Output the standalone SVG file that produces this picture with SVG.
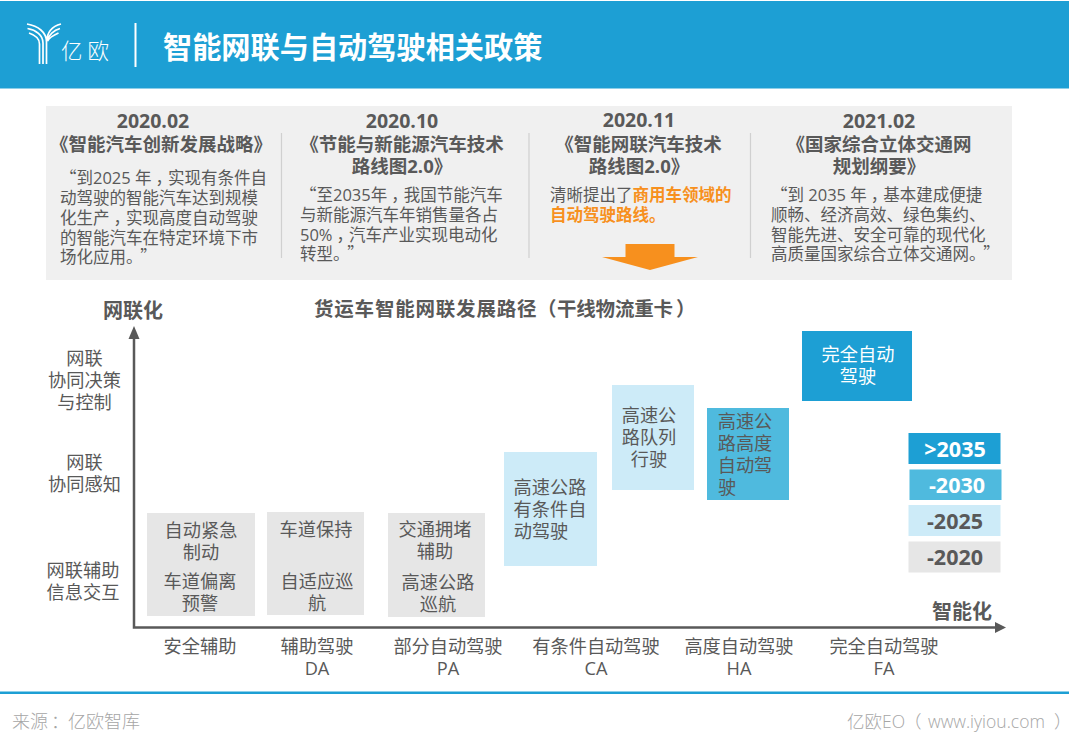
<svg xmlns="http://www.w3.org/2000/svg" width="1080" height="751" viewBox="0 0 1080 751">
<style>
text{font-family:"Open Sans","Noto Sans CJK SC","Noto Sans",sans-serif;fill:#595959;text-anchor:middle}
.st{font-size:16.5px}
.l{text-anchor:start}
.q{font-family:"Noto Sans CJK SC",sans-serif}
.date{font-size:19.5px;font-weight:700}
.ti{font-size:18.5px;font-weight:700}
.or{fill:#f7901e;font-weight:700}
.n{font-size:18.2px}
.ax{font-size:18.2px}
.ah{font-size:20px;font-weight:700}
.yr{font-size:21.5px;font-weight:700}
.w{fill:#fff}
.sep{stroke:#d0d0d0;stroke-width:1.2;fill:none}
.lg{stroke:#fff;stroke-width:1.7;fill:none}
.ft{font-size:17.5px;font-weight:300;fill:#a6a6a6}
</style>
<rect width="1080" height="751" fill="#fff"/>
<g id="header">
<rect x="0" y="1" width="1069" height="87.500" fill="#1d9fd4"/>
<g id="logo">
<path class="lg" d="M27 24C38 26 46.500 32 46.500 42V64M27.500 28.500C36 30 43 35 43 43V64M29 33C35 35 39.500 38 39.500 44V64M61 24C53 26 47 32 46.500 42M60 28.500C54 30 48.500 35 47 41M58.500 33C54 35 49 38 47.500 41"/>
<text x="61" y="59" class="l w" style="font-size:21.500px;font-weight:300">亿</text>
<text x="87.500" y="59" class="l w" style="font-size:21.500px;font-weight:300">欧</text>
</g>
<rect x="134.500" y="23" width="2" height="44" fill="#fff"/>
<text x="163" y="57.500" class="l w" style="font-size:29.200px;font-weight:700">智能网联与自动驾驶相关政策</text>
</g>
<g id="policy-panel">
<rect x="46" y="106" width="966" height="174" fill="#f0f0f0"/>
<path class="sep" d="M281.500 133V258M529 133V258M750.500 133V258"/>
</g>
<g id="policy-1">
<text x="153" y="128" class="date">2020.02</text>
<text x="161" y="151" class="ti">《智能汽车创新发展战略》</text>
<text x="60" y="184" class="st l"><tspan class="q">“</tspan>到2025 年<tspan dx="4">，</tspan><tspan dx="-4">实现有条件自</tspan></text>
<text x="60" y="204" class="st l">动驾驶的智能汽车达到规模</text>
<text x="60" y="224" class="st l">化生产<tspan dx="4">，</tspan><tspan dx="-4">实现高度自动驾驶</tspan></text>
<text x="60" y="244" class="st l">的智能汽车在特定环境下市</text>
<text x="60" y="263" class="st l">场化应用。<tspan class="q" dx="6">”</tspan></text>
</g>
<g id="policy-2">
<text x="402" y="128" class="date">2020.10</text>
<text x="402" y="151" class="ti">《节能与新能源汽车技术</text>
<text x="402" y="173" class="ti">路线图2.0》</text>
<text x="300" y="201" class="st l"><tspan class="q">“</tspan>至2035年<tspan dx="4">，</tspan><tspan dx="-4">我国节能汽车</tspan></text>
<text x="300" y="221" class="st l">与新能源汽车年销售量各占</text>
<text x="300" y="241" class="st l">50%<tspan dx="4">，</tspan><tspan dx="-4">汽车产业实现电动化</tspan></text>
<text x="300" y="260" class="st l">转型。<tspan class="q" dx="6">”</tspan></text>
</g>
<g id="policy-3">
<text x="639" y="127" class="date">2020.11</text>
<text x="638.500" y="151" class="ti">《智能网联汽车技术</text>
<text x="639" y="173" class="ti">路线图2.0》</text>
<text x="550" y="201" class="st l">清晰提出了<tspan class="or">商用车领域的</tspan></text>
<text x="550" y="221" class="st l or">自动驾驶路线。</text>
<polygon points="625.500,244 674.500,244 674.500,257 698,257 650,270 602,257 625.500,257" fill="#f7901e"/>
</g>
<g id="policy-4">
<text x="879" y="128" class="date">2021.02</text>
<text x="879" y="151" class="ti">《国家综合立体交通网</text>
<text x="879" y="173" class="ti">规划纲要》</text>
<text x="771" y="201" class="st l"><tspan class="q">“</tspan>到 2035 年<tspan dx="4">，</tspan><tspan dx="-4">基本建成便捷</tspan></text>
<text x="771" y="221" class="st l">顺畅、经济高效、绿色集约、</text>
<text x="771" y="241" class="st l">智能先进、安全可靠的现代化</text>
<text x="771" y="260" class="st l">高质量国家综合立体交通网。<tspan class="q" dx="6">”</tspan></text>
</g>
<text x="314" y="316" class="l" style="font-size:19.500px;font-weight:700;letter-spacing:.8px">货运车智能网联发展路径<tspan x="537">（</tspan><tspan x="557" style="letter-spacing:-.2px">干线物流重卡</tspan><tspan x="676">）</tspan></text>
<g id="axes" fill="none" stroke="#595959" stroke-width="2.500">
<path d="M134 335V627.500H997"/>
<polygon points="134,326 128.500,339 139.500,339" fill="#595959" stroke="none"/>
<polygon points="1006,627.500 995,622 995,633" fill="#595959" stroke="none"/>
</g>
<text x="133" y="318" class="ah">网联化</text>
<text x="962" y="619" class="ah">智能化</text>
<g id="y-labels">
<text x="84.500" y="365" class="ax">网联</text><text x="84.500" y="387" class="ax">协同决策</text><text x="84.500" y="409" class="ax">与控制</text>
<text x="84.500" y="469" class="ax">网联</text><text x="84.500" y="491" class="ax">协同感知</text>
<text x="83" y="577" class="ax">网联辅助</text><text x="83" y="598.500" class="ax">信息交互</text>
</g>
<g id="x-labels">
<text x="200" y="653" class="ax">安全辅助</text>
<text x="317" y="653" class="ax">辅助驾驶</text><text x="317" y="675" class="ax">DA</text>
<text x="448" y="653" class="ax">部分自动驾驶</text><text x="448" y="675" class="ax">PA</text>
<text x="596" y="653" class="ax">有条件自动驾驶</text><text x="596" y="675" class="ax">CA</text>
<text x="739" y="653" class="ax">高度自动驾驶</text><text x="739" y="675" class="ax">HA</text>
<text x="884" y="653" class="ax">完全自动驾驶</text><text x="884" y="675" class="ax">FA</text>
</g>
<g id="node-safety">
<rect x="147" y="513" width="108" height="103" fill="#e6e6e6"/>
<text x="201" y="537" class="n">自动紧急</text><text x="201" y="559" class="n">制动</text><text x="200" y="588" class="n">车道偏离</text><text x="200" y="610" class="n">预警</text>
</g>
<g id="node-da">
<rect x="267" y="512" width="97" height="103" fill="#e6e6e6"/>
<text x="316" y="536" class="n">车道保持</text><text x="317" y="588" class="n">自适应巡</text><text x="317" y="610" class="n">航</text>
</g>
<g id="node-pa">
<rect x="388" y="513" width="97" height="104" fill="#e6e6e6"/>
<text x="435" y="536" class="n">交通拥堵</text><text x="435" y="558" class="n">辅助</text><text x="438" y="589" class="n">高速公路</text><text x="438" y="611" class="n">巡航</text>
</g>
<g id="node-ca">
<rect x="504" y="452" width="93" height="114" fill="#cdebf8"/>
<text x="550" y="494" class="n">高速公路</text><text x="550" y="516" class="n">有条件自</text><text x="541" y="538" class="n">动驾驶</text>
</g>
<g id="node-platoon">
<rect x="612" y="385" width="82" height="105" fill="#cdebf8"/>
<text x="649" y="422" class="n">高速公</text><text x="649" y="444" class="n">路队列</text><text x="649" y="466" class="n">行驶</text>
</g>
<g id="node-ha">
<rect x="707" y="408" width="82" height="92" fill="#4fbade"/>
<text x="745" y="428" class="n">高速公</text><text x="745" y="450" class="n">路高度</text><text x="745" y="472" class="n">自动驾</text><text x="727" y="494" class="n">驶</text>
</g>
<g id="node-fa">
<rect x="802" y="331" width="110" height="70" fill="#1d9fd4"/>
<text x="858" y="361" class="n w">完全自动</text><text x="858" y="383" class="n w">驾驶</text>
</g>
<g id="legend">
<g id="legend-2035"><rect x="908.500" y="433" width="92" height="31" fill="#1d9fd4"/><text x="955" y="457" class="yr w">&gt;2035</text></g>
<g id="legend-2030"><rect x="909.500" y="469.500" width="92" height="30.500" fill="#4fbade"/><text x="957" y="492.500" class="yr w">-2030</text></g>
<g id="legend-2025"><rect x="908.500" y="505" width="92" height="31" fill="#cdebf8"/><text x="955" y="528.500" class="yr">-2025</text></g>
<g id="legend-2020"><rect x="908.500" y="541.500" width="92" height="31" fill="#e6e6e6"/><text x="955" y="564.500" class="yr">-2020</text></g>
</g>
<g id="footer">
<rect x="0" y="691.500" width="1069" height="2.500" fill="#1d9fd4"/>
<text x="12" y="728" class="l ft" style="font-size:18px">来源<tspan dx="3">：</tspan><tspan x="68">亿欧智库</tspan></text>
<text x="847" y="728" class="l ft">亿欧EO<tspan x="904">（</tspan><tspan x="928">www.iyiou.com</tspan><tspan x="1054">）</tspan></text>
</g>
</svg>
